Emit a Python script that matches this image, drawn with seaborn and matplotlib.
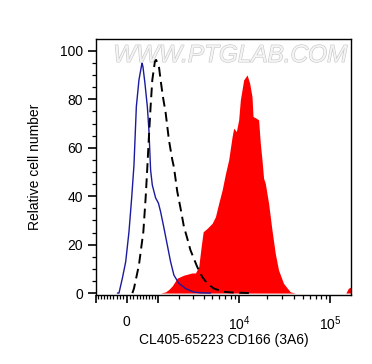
import matplotlib
matplotlib.use("Agg")
import matplotlib.pyplot as plt
import matplotlib.patheffects as pe
from matplotlib.ticker import FixedLocator, MultipleLocator
import seaborn as sns

# control (blue solid)
blue_x = [-273, -226, -125, -29, 67, 146, 214, 285, 364, 447, 463, 488, 552, 631, 684,
          742, 802, 922, 1028, 1117, 1257, 1408, 1565, 1734, 2009, 2432, 3052, 3657, 4758]
blue_y = [0, 0, 6.2, 12.9, 25.3, 39.3, 52.9, 77.0, 88.0, 94.2, 94.9, 93.5, 86.7, 77.0, 67.4,
          50.8, 44.6, 39.3, 37.2, 33.6, 26.9, 19.8, 12.9, 7.4, 4.0, 1.9, 0.4, 0.1, 0]

# negative control (black dashed)
dash_x = [167, 214, 364, 501, 575, 631, 684, 742, 802, 896, 941, 1051, 1117, 1213, 1333,
          1484, 1651, 1734, 1918, 2111, 2324, 2547, 2784, 3342, 3824, 4356, 5181, 6705, 8658, 13250]
dash_y = [0, 1.9, 11.6, 25.3, 39.3, 52.0, 64.6, 77.0, 88.0, 95.6, 96.3, 93.5, 88.0, 81.1, 74.4,
          63.2, 55.0, 52.0, 41.9, 35.0, 27.4, 22.7, 17.8, 10.9, 6.7, 4.0, 1.9, 0.5, 0.2, 0]

# CD166 stained (red filled)
red_x = [1117, 1333, 1480, 1651, 1918, 2324, 2913, 3196, 3488, 3720, 3925, 4356, 4967, 5408,
         5893, 6440, 7001, 7613, 8315, 8658, 9275, 9833, 10270, 11170, 12190, 13020, 13830,
         14190, 15430, 16360, 17080, 17830, 18570, 19390, 21080, 22980, 24980, 27150, 30820,
         36560, 41480, 100000, 150000, 159900, 171000]
red_y = [0, 0.5, 1.5, 3.0, 6.2, 7.4, 8.3, 8.3, 10.9, 19.1, 25.3, 26.7, 28.8, 31.5,
         37.1, 42.6, 49.2, 55.0, 64.6, 68.1, 66.7, 71.5, 79.8, 88.0, 90.1, 86.7, 81.1,
         72.9, 72.2, 71.5, 61.9, 55.0, 47.4, 45.3, 37.1, 26.0, 16.4, 9.5, 4.0,
         0.5, 0, 0, 0, 2.0, 2.5]

x_ticks = [-1000, 0, 1000, 10000, 100000]
x_labels = ["", "0", "", "$10^4$", "$10^5$"]
x_minor = ([v for v in range(-1000, 1001, 100)] + [k * 1000 for k in range(2, 10)]
           + [k * 10000 for k in range(2, 10)])

sns.set_style("ticks")
plt.rcParams["font.family"] = ["Liberation Sans", "DejaVu Sans"]
plt.rcParams["mathtext.fontset"] = "custom"
plt.rcParams["mathtext.rm"] = "Liberation Sans"
plt.rcParams["mathtext.it"] = "Liberation Sans"
plt.rcParams["text.color"] = "black"
plt.rcParams["axes.labelcolor"] = "black"

fig = plt.figure(figsize=(3.72, 3.64), dpi=100)
ax = fig.add_axes([0.2573, 0.1909, 0.6863, 0.7011])
ax.set_xscale("asinh", linear_width=1150)

ax.fill_between(red_x, red_y, 0, color="#ff0000", linewidth=0, zorder=2)
sns.lineplot(x=blue_x, y=blue_y, ax=ax, color="#1a1a9e", linewidth=1.0, zorder=3)
sns.lineplot(x=dash_x, y=dash_y, ax=ax, color="black", linewidth=1.4,
             linestyle=(0, (5, 2.8)), zorder=4)

ax.text(0.526, 0.937, "WWW.PTGLAB.COM", transform=ax.transAxes, ha="center", va="center",
        fontsize=17.5, style="italic", color="#f4f4f4", zorder=1,
        path_effects=[pe.withStroke(linewidth=0.8, foreground="#c4c4c4")])

ax.set_xlim(-1000, 171000)
ax.set_ylim(-0.6, 104.8)
ax.set_xticks(x_ticks)
ax.set_xticklabels(x_labels)
ax.xaxis.set_minor_locator(FixedLocator(x_minor))
ax.set_yticks([0, 20, 40, 60, 80, 100])
ax.yaxis.set_minor_locator(MultipleLocator(5))

ax.tick_params(axis="both", which="major", direction="out", length=6, width=1.2,
               labelsize=10, color="black", labelcolor="black", pad=3)
ax.tick_params(axis="x", which="major", pad=8.5)
ax.tick_params(axis="both", which="minor", direction="out", length=3, width=0.9, color="black")
for s in ax.spines.values():
    s.set_linewidth(1.0)
    s.set_color("black")
    s.set_visible(True)

ax.set_xlabel("CL405-65223 CD166 (3A6)", fontsize=10, labelpad=0)
ax.set_ylabel("Relative cell number", fontsize=10, labelpad=13)

fig.savefig("out.png", dpi=100)
